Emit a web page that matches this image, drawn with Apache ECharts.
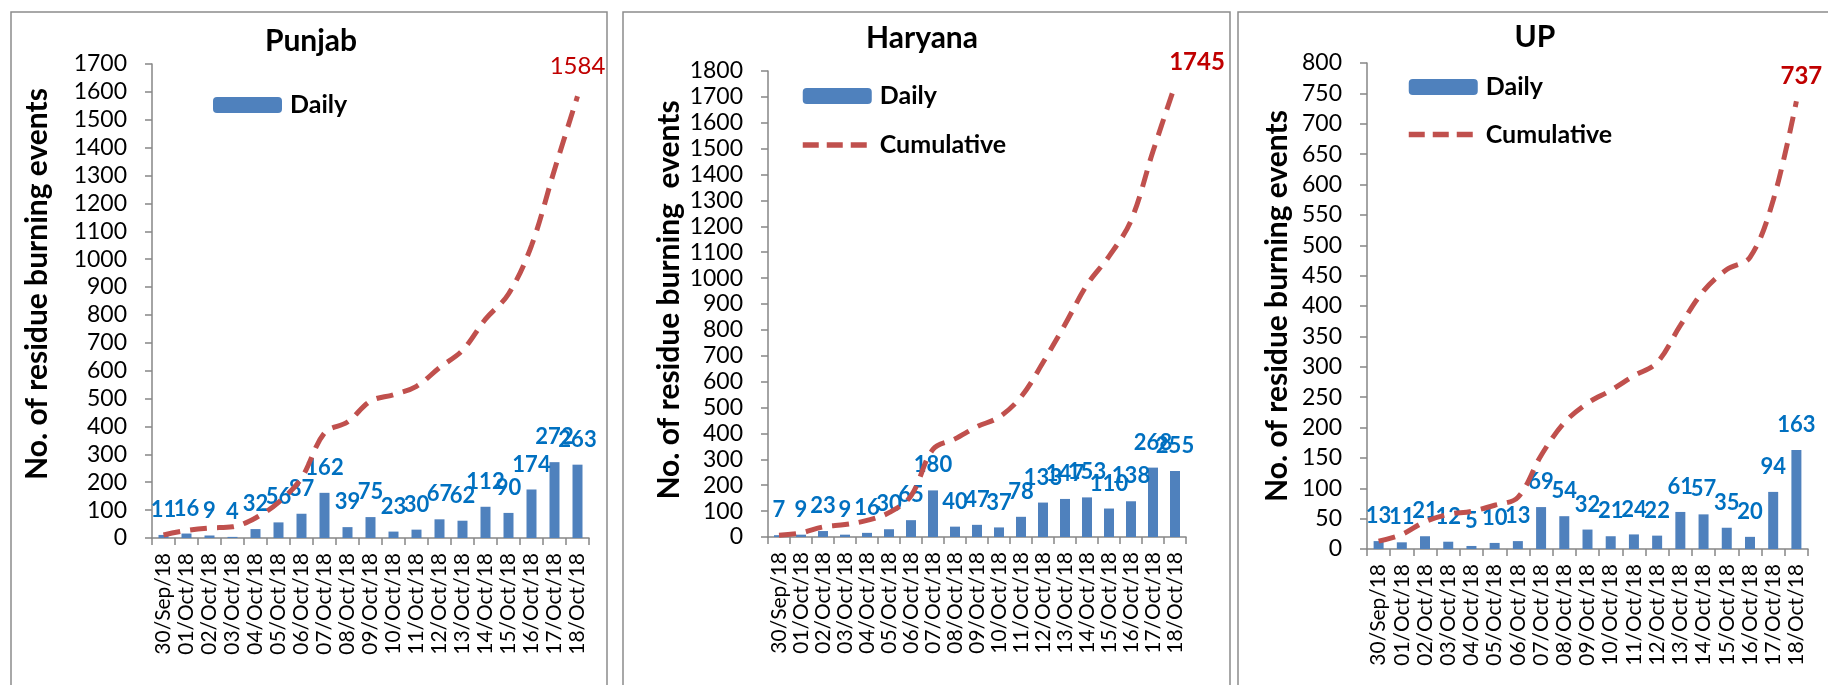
<!DOCTYPE html>
<html>
<head>
<meta charset="utf-8">
<script src="https://cdn.jsdelivr.net/npm/echarts@6/dist/echarts.min.js"></script>
<style>
html,body{margin:0;padding:0;background:#fff;}
#chart{width:1828px;height:685px;}
</style>
</head>
<body>
<div id="chart"></div>
<script>
// ---- data ----
const categories = ['30/Sep/18','01/Oct/18','02/Oct/18','03/Oct/18','04/Oct/18','05/Oct/18','06/Oct/18','07/Oct/18','08/Oct/18','09/Oct/18','10/Oct/18','11/Oct/18','12/Oct/18','13/Oct/18','14/Oct/18','15/Oct/18','16/Oct/18','17/Oct/18','18/Oct/18'];

const punjabDaily = [11,16,9,4,32,56,87,162,39,75,23,30,67,62,112,90,174,272,263];
const punjabCumulative = [11,27,36,40,72,128,215,377,416,491,514,544,611,673,785,875,1049,1321,1584];

const haryanaDaily = [7,9,23,9,16,30,65,180,40,47,37,78,133,147,153,110,138,268,255];
const haryanaCumulative = [7,16,39,48,64,94,159,339,379,426,463,541,674,821,974,1084,1222,1490,1745];

const upDaily = [13,11,21,12,5,10,13,69,54,32,21,24,22,61,57,35,20,94,163];
const upCumulative = [13,24,45,57,62,72,85,154,208,240,261,285,307,368,425,460,480,574,737];

const titles = ['Punjab','Haryana','UP'];
const yMax = [1700, 1800, 800];
const yInterval = [100, 100, 50];
const yNames = ['No. of residue burning events','No. of residue burning  events','No. of residue burning events'];
const legendItems = [['Daily'], ['Daily','Cumulative'], ['Daily','Cumulative']];
const dailySets = [punjabDaily, haryanaDaily, upDaily];
const cumSets = [punjabCumulative, haryanaCumulative, upCumulative];

// ---- layout / style ----
const FONT = 'Lato';
const LINE_COLOR = '#C0504D';
const LINE_DASH = [17,10];
const layout = [
  {grid:{left:152, top:64, width:437, height:474}, panel:{x:11, w:596}, title:{x:311, y:41}, nameGap:100, namePad:[0,0,0,34], legend:{left:213, top:92, gap:23}, endOffset:[0,0], endDist:18, endBold:'normal'},
  {grid:{left:768, top:71, width:418, height:466}, panel:{x:623, w:607}, title:{x:922, y:38}, nameGap:84, namePad:[0,0,0,8], legend:{left:800, top:83, gap:23}, endOffset:[22,0], endDist:11, endBold:'bold'},
  {grid:{left:1367, top:63, width:441, height:486}, panel:{x:1238, w:640}, title:{x:1535, y:37}, nameGap:75, namePad:[0,0,0,0], legend:{left:1406, top:74, gap:21.5}, endOffset:[5,0], endDist:13, endBold:'bold'}
];

const axisColor = '#868686';
const graphic = [];
const grids = [], xAxes = [], yAxes = [], series = [], legends = [];

layout.forEach((L, i) => {
  graphic.push({type:'rect', silent:true, z:-10, shape:{x:L.panel.x, y:12, width:L.panel.w, height:720},
    style:{fill:'none', stroke:'#8c8c8c', lineWidth:1.5}});
  graphic.push({type:'text', silent:true, x:L.title.x, y:L.title.y,
    style:{text:titles[i], align:'center', verticalAlign:'middle', font:'bold 30px ' + FONT, fill:'#000'}});

  grids.push(Object.assign({containLabel:false}, L.grid));

  xAxes.push({
    type:'category', gridIndex:i, data:categories, boundaryGap:true,
    axisLine:{show:true, lineStyle:{color:axisColor, width:1.5}},
    axisTick:{show:true, length:7, lineStyle:{color:axisColor, width:1.5}},
    axisLabel:{rotate:90, interval:0, margin:15, fontFamily:FONT, fontSize:21, color:'#000'},
    splitLine:{show:false}
  });

  yAxes.push({
    type:'value', gridIndex:i, min:0, max:yMax[i], interval:yInterval[i],
    axisLine:{show:true, lineStyle:{color:axisColor, width:1.5}},
    axisTick:{show:true, length:7, lineStyle:{color:axisColor, width:1.5}},
    axisLabel:{margin:25, fontFamily:FONT, fontSize:23, color:'#000', formatter:(v) => String(v)},
    splitLine:{show:false},
    name:yNames[i], nameLocation:'middle', nameGap:L.nameGap,
    nameTextStyle:{fontFamily:FONT, fontWeight:'bold', fontSize:30, color:'#000', padding:L.namePad}
  });

  legends.push({
    data:legendItems[i].map(n => n === 'Cumulative'
      ? {name:n, itemStyle:{opacity:0}, lineStyle:{color:LINE_COLOR, width:5.5, type:[16,8]}}
      : {name:n}),
    orient:'vertical', left:L.legend.left, top:L.legend.top, padding:0,
    itemWidth:69, itemHeight:16, itemGap:L.legend.gap, selectedMode:false,
    textStyle:{fontFamily:FONT, fontWeight:'bold', fontSize:25, color:'#000', lineHeight:26, padding:[0,0,0,3]}
  });

  series.push({
    type:'bar', name:'Daily', xAxisIndex:i, yAxisIndex:i, data:dailySets[i],
    barWidth:10, itemStyle:{color:'#4F81BD'},
    label:{show:true, position:'top', distance:14, color:'#0070C0', fontFamily:FONT, fontWeight:'bold', fontSize:22}
  });

  series.push({
    type:'line', name:'Cumulative', xAxisIndex:i, yAxisIndex:i, data:cumSets[i],
    smooth:0.35, symbol:'none', z:3,
    lineStyle:{color:LINE_COLOR, width:5, type:LINE_DASH, cap:'butt'},
    itemStyle:{color:LINE_COLOR},
    markPoint:{
      symbol:'circle', symbolSize:0, animation:false,
      data:[{type:'max'}],
      label:{show:true, position:'top', distance:L.endDist, offset:L.endOffset, formatter:'{c}',
        color:'#C00000', fontFamily:FONT, fontWeight:L.endBold, fontSize:24}
    }
  });
});

const chart = echarts.init(document.getElementById('chart'), null, {renderer:'canvas'});
chart.setOption({
  animation:false,
  backgroundColor:'#ffffff',
  graphic:graphic,
  legend:legends,
  grid:grids,
  xAxis:xAxes,
  yAxis:yAxes,
  series:series
});
</script>
</body>
</html>
